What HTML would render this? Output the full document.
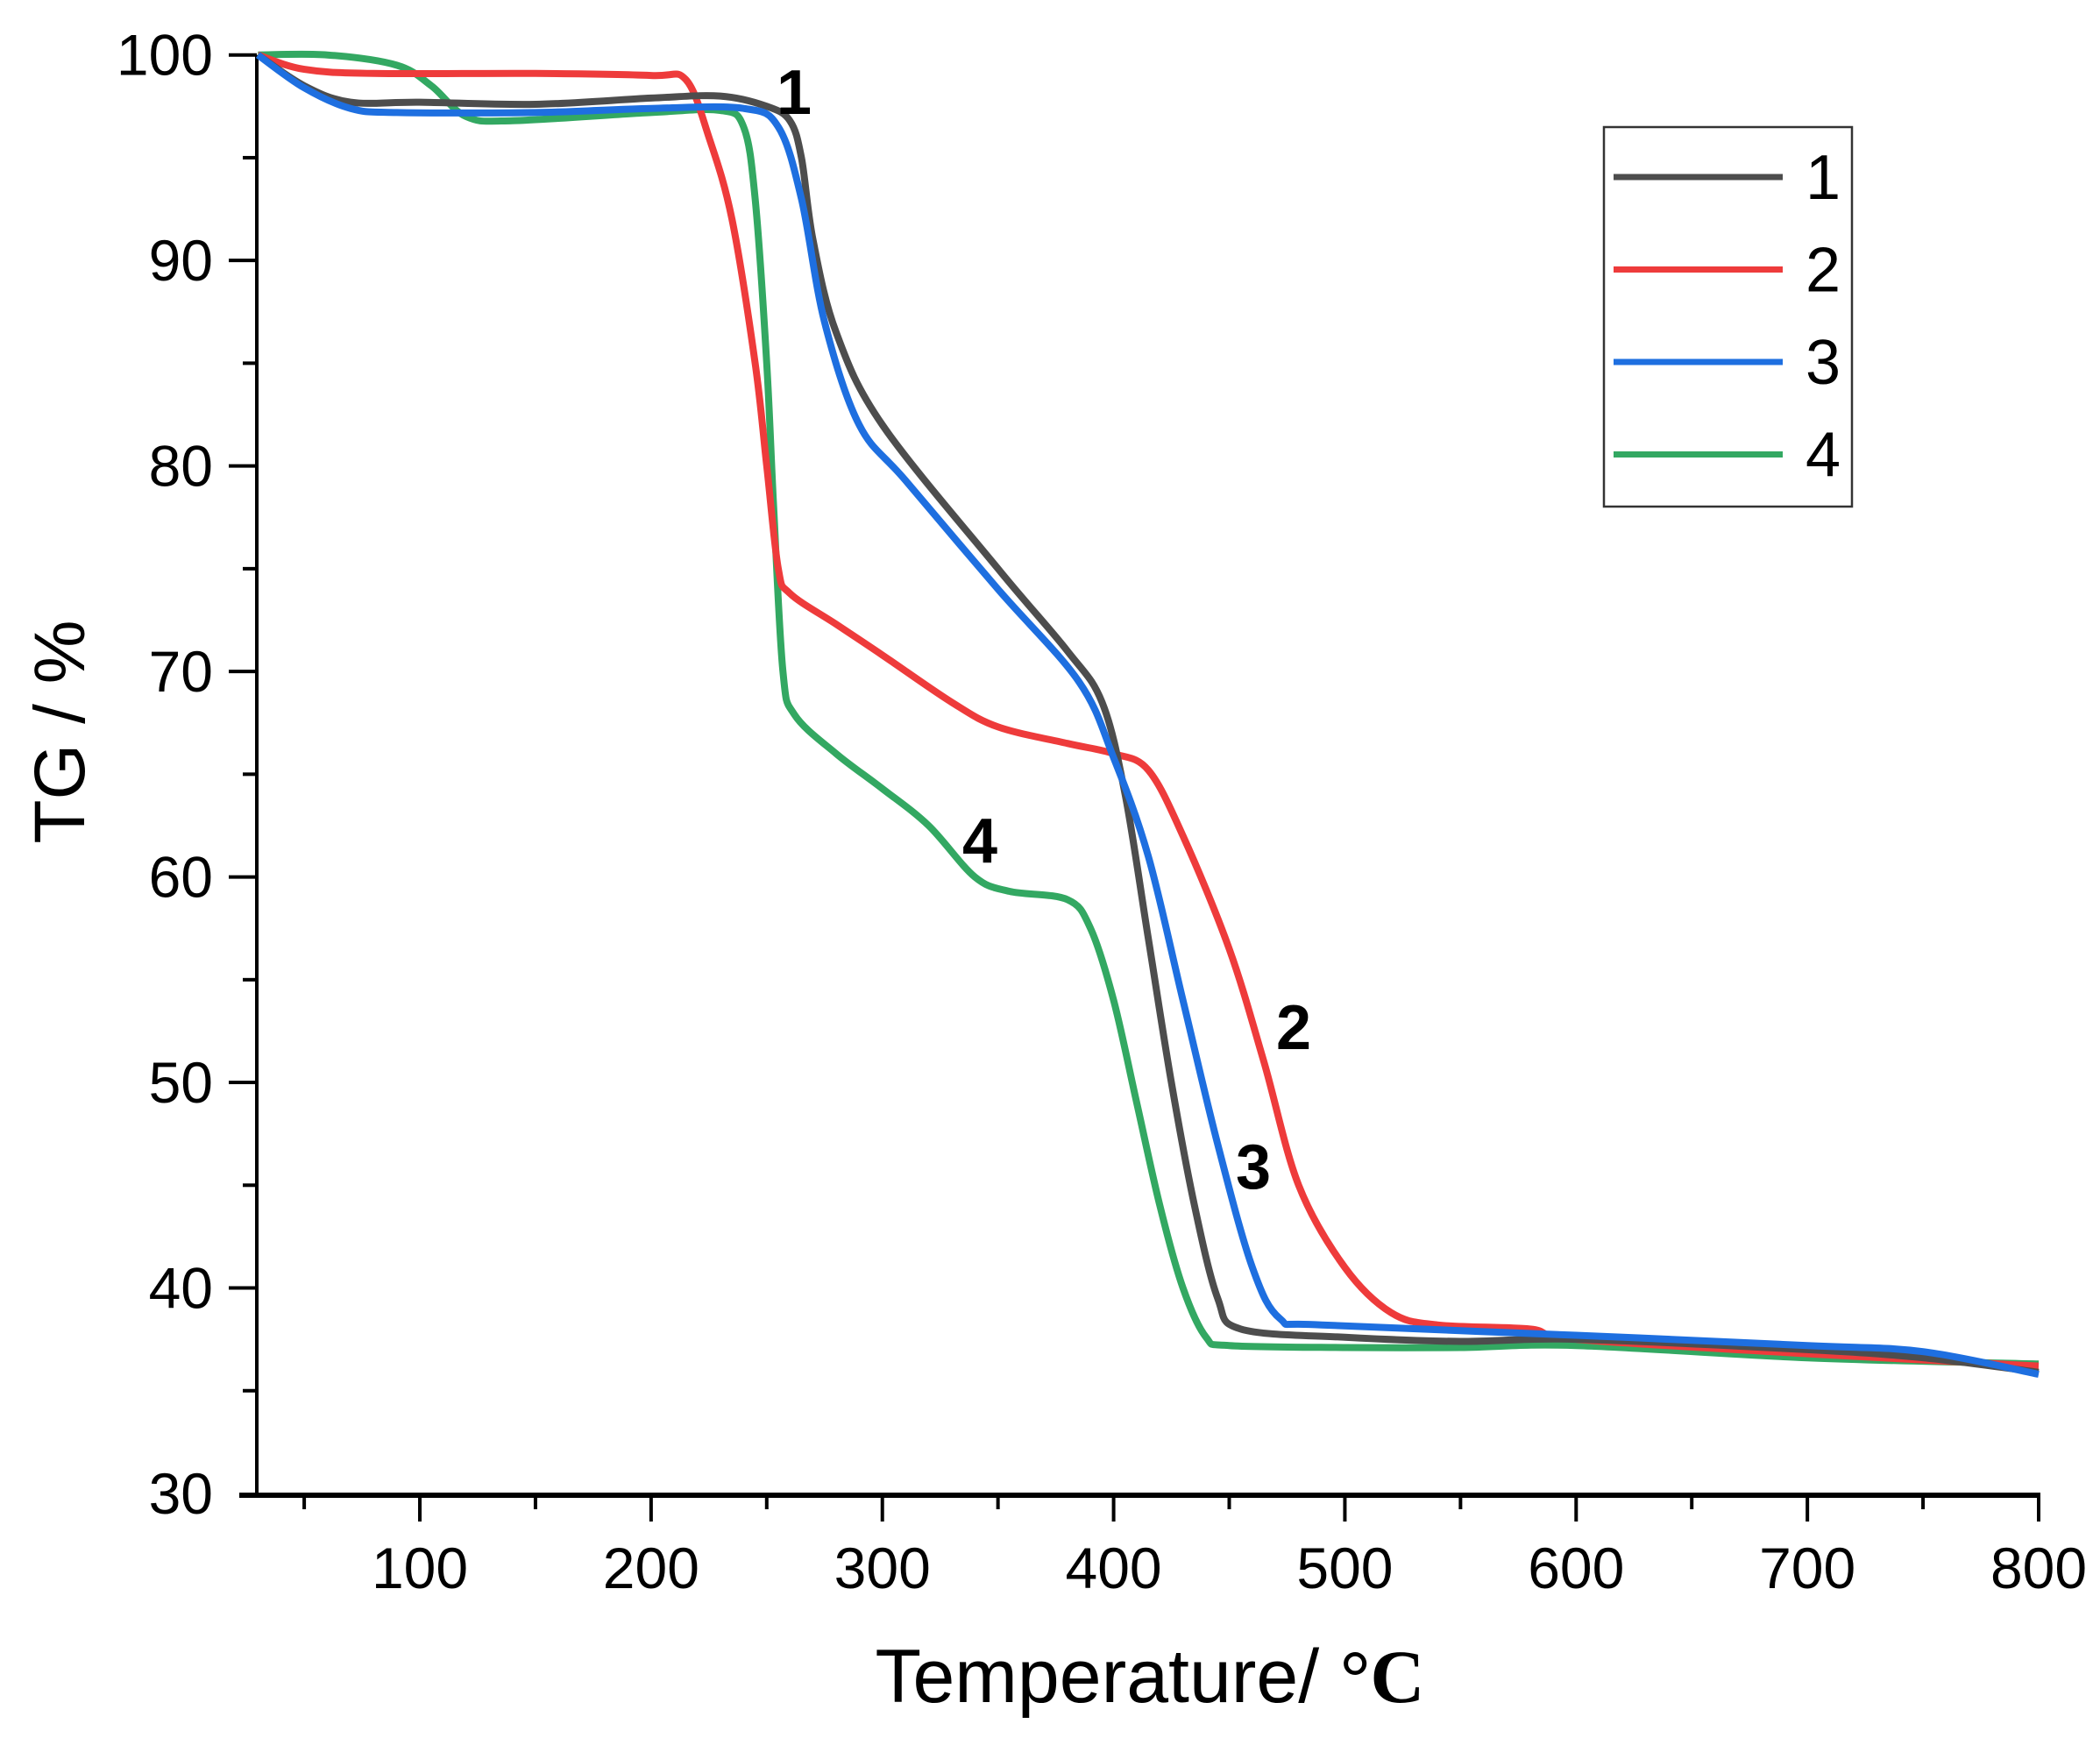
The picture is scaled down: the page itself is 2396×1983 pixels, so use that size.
<!DOCTYPE html>
<html><head><meta charset="utf-8"><style>
html,body{margin:0;padding:0;background:#fff;}
svg{display:block;font-family:"Liberation Sans",sans-serif;}
</style></head><body>
<svg id="chart" width="2396" height="1983" viewBox="0 0 2396 1983" xmlns="http://www.w3.org/2000/svg">
<g id="axes"></g>
<g id="series"></g>
<text x="0" y="0" transform="translate(96,835) rotate(-90)" text-anchor="middle" font-size="82">TG / %</text>
<text x="1312" y="1942" text-anchor="middle" font-size="86">Temperature/ <tspan font-family="Liberation Serif" font-weight="bold">°C</tspan></text>
<g font-weight="bold" font-size="72">
<text x="906" y="130" text-anchor="middle">1</text>
<text x="1118" y="984" text-anchor="middle">4</text>
<text x="1476" y="1197" text-anchor="middle">2</text>
<text x="1430" y="1356" text-anchor="middle">3</text>
</g>
<g id="legend">
<rect x="1830" y="145" width="283" height="433" fill="#fff" stroke="#333" stroke-width="2.5"/>
</g>
</svg>
<script>
const xTicks=[100,200,300,400,500,600,700,800];
const yTicks=[30,40,50,60,70,80,90,100];
const seriesNames=["1","2","3","4"];
const t1=[30,50,70,100,150,200,230,250,260,265,270,280,300,350,380,395,405,415,425,435,445,455,500,550,600,700,750,800];
const v1=[100,98.5,97.7,97.7,97.6,97.9,98,97.5,96.8,95,91,86.5,82,75,71,68.5,64,57,50,44,39.5,38,37.6,37.4,37.5,37,36.6,35.9];
const t2=[30,50,80,150,200,215,225,235,245,250,255,260,280,300,330,350,380,400,415,430,450,465,480,500,520,540,580,600,700,800];
const v2=[100,99.3,99.1,99.1,99,98.8,96,92,85,80,75,73.8,72.3,70.8,68.5,67.3,66.5,66,65.2,62,56.5,51,45,41,38.8,38.2,38,37.5,36.8,36.2];
const t3=[30,50,70,90,150,200,240,255,265,275,290,310,350,385,400,415,430,445,460,472,490,600,700,750,800];
const v3=[100,98.4,97.4,97.2,97.2,97.4,97.4,96.5,93,87,82,79.3,74,69.5,65.8,61,54,47,41,38.5,38.2,37.7,37.2,36.9,35.8];
const t4=[30,60,90,105,120,140,200,230,240,245,250,253,257,262,280,300,320,340,355,380,390,400,410,420,430,440,450,500,550,600,700,800];
const v4=[100,100,99.5,98.5,97,96.8,97.2,97.3,96.5,93,85,78,70,67.9,66,64.3,62.5,60,59.3,58.9,57.5,54,49,44,40,37.6,37.2,37.1,37.1,37.2,36.6,36.3];
const NS="http://www.w3.org/2000/svg";
const X0=293,X1=2326,T0=29.5,T1=800,Y0=1704,Y1=62.7;
function xs(t){return X0+(t-T0)/(T1-T0)*(X1-X0);}
function ys(v){return Y0-(v-30)/70*(Y0-Y1);}
function mk(tag,attrs,parent){const e=document.createElementNS(NS,tag);for(const k in attrs)e.setAttribute(k,attrs[k]);parent.appendChild(e);return e;}
const axes=document.getElementById('axes');
let e=mk('line',{x1:X0,y1:Y1,x2:X0,y2:Y0,stroke:'#000','stroke-width':4},axes);


e=mk('line',{x1:X0-20,y1:Y0+2,x2:X1+2,y2:Y0+2,stroke:'#000','stroke-width':6},axes);


for(let t=50;t<=800;t+=50){
  const major=t%100===0;
  e=mk('line',{x1:xs(t),y1:Y0,x2:xs(t),y2:Y0+(major?32:18),stroke:'#000','stroke-width':4},axes);
  
  
}
xTicks.forEach(t=>{
  e=mk('text',{x:xs(t),y:Y0+108,'text-anchor':'middle','font-size':66},axes);
  e.textContent=String(t);
  
  
});
for(let v=35;v<=100;v+=5){
  const major=v%10===0;
  e=mk('line',{x1:X0-(major?32:16),y1:ys(v),x2:X0,y2:ys(v),stroke:'#000','stroke-width':4},axes);
  
  
}
yTicks.forEach(v=>{
  e=mk('text',{x:X0-50,y:ys(v)+23,'text-anchor':'end','font-size':66},axes);
  e.textContent=String(v);
  
  
});
const colors=["#4d4d4d","#ee3b3b","#1e6fe0","#33a862"];
const data=[[t1,v1],[t2,v2],[t3,v3],[t4,v4]];
const sg=document.getElementById('series');
const order=[3,1,0,2];
order.forEach(i=>{
  const [t,v]=data[i];
  const pts=t.map((tt,j)=>[xs(tt),ys(v[j])]);
  let d='M'+pts[0][0].toFixed(1)+','+pts[0][1].toFixed(1);
  for(let j=0;j<pts.length-1;j++){
    const p0=pts[Math.max(j-1,0)],p1=pts[j],p2=pts[j+1],p3=pts[Math.min(j+2,pts.length-1)];
    const c1=[p1[0]+(p2[0]-p0[0])/6,p1[1]+(p2[1]-p0[1])/6];
    const c2=[p2[0]-(p3[0]-p1[0])/6,p2[1]-(p3[1]-p1[1])/6];
    d+=' C'+c1[0].toFixed(1)+','+c1[1].toFixed(1)+' '+c2[0].toFixed(1)+','+c2[1].toFixed(1)+' '+p2[0].toFixed(1)+','+p2[1].toFixed(1);
  }
  const p=mk('path',{d:d,fill:'none',stroke:colors[i],'stroke-width':8,'stroke-linejoin':'round'},sg);
  
  
});
const lg=document.getElementById('legend');
seriesNames.forEach((n,i)=>{
  const y=202+i*105.5;
  const l=mk('line',{x1:1841,y1:y,x2:2034,y2:y,stroke:colors[i],'stroke-width':7},lg);
  
  
  const tx=mk('text',{x:2080,y:y+25,'font-size':72,'text-anchor':'middle'},lg);
  tx.textContent=n;
  
  
});
</script>
</body></html>
